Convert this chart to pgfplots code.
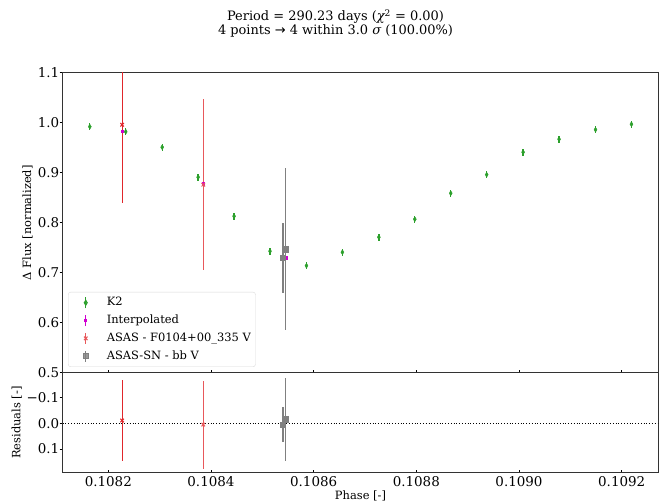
\documentclass[border=0pt]{standalone}
\usepackage{fontspec}
\setmainfont{DejaVu Serif}
\newfontfamily\dvs{DejaVu Sans}
\usepackage{pgfplots}
\usepackage{pgfplotstable}
\pgfplotsset{compat=1.18}
\definecolor{kgreen}{HTML}{2CA02C}
\definecolor{intermag}{HTML}{D000D0}
\definecolor{asasred}{HTML}{E0262B}
\definecolor{asaspink}{HTML}{E8585B}
\definecolor{sngray}{HTML}{808080}

% x = (phase - 0.1080) * 10^4
\pgfplotstableread{
x y e
1.64 0.992 0.007
2.34 0.982 0.007
3.05 0.951 0.007
3.75 0.891 0.007
4.45 0.813 0.007
5.15 0.743 0.007
5.86 0.714 0.007
6.56 0.741 0.007
7.27 0.771 0.007
7.97 0.807 0.007
8.67 0.859 0.007
9.37 0.896 0.007
10.08 0.941 0.007
10.78 0.967 0.007
11.49 0.986 0.007
12.19 0.997 0.007
}\kii
\pgfplotstableread{
x y e
2.27 0.983 0.002
3.85 0.878 0.002
5.46 0.730 0.002
}\interp
\pgfplotstableread{
x y e
2.27 0.996 0.157
}\asasA
\pgfplotstableread{
x y e
3.85 0.876 0.171
}\asasB
\pgfplotstableread{
x y e
5.40 0.730 0.070
5.45 0.747 0.162
}\asassn
\pgfplotstableread{
x y e
2.27 -0.011 0.156
}\resA
\pgfplotstableread{
x y e
3.85 0.005 0.171
}\resB
\pgfplotstableread{
x y e
5.40 0.004 0.068
5.45 -0.016 0.162
}\resSN

\pgfplotsset{
  common/.style={
    scale only axis, anchor=south west,
    width=595.6bp, xmin=1.112, xmax=12.713,
    axis line style={black!80, line width=1bp},
    tick align=inside, major tick length=3bp,
    xtick pos=bottom, ytick pos=left,
    tick style={black, line width=0.8bp},
    ytick style={xshift=-3bp},
    tick label style={font=\fontsize{13.5}{16}\selectfont},
    xtick={2,4,6,8,10,12},
  },
  eb/.style={error bars/y dir=both, error bars/y explicit,
    error bars/draw error bar/.code 2 args={\draw[#1, line width=1.3bp] ##1 -- ##2;}},
  limg/.style 2 args={legend image code/.code={\path (-12.5bp,0) (12.5bp,0);
    \draw[#1, line width=1.3bp] (0,-5.5bp)--(0,5.5bp);
    \draw[#1, fill=#1, line width=1bp] plot[only marks, #2] coordinates {(0,0)};}},
}

\begin{document}
\begin{tikzpicture}
\useasboundingbox (0bp,0bp) rectangle (671bp,504bp);
\node[anchor=base, font=\fontsize{13}{16}\selectfont] at (335.5bp,483.3bp)
  {Period = 290.23 days ({\itshape χ}\textsuperscript{2} = 0.00)};
\node[anchor=base, font=\fontsize{13}{16}\selectfont] at (335.5bp,469bp)
  {4 points {\dvs →} 4 within 3.0 {\itshape σ} (100.00\%)};

\begin{axis}[common, at={(62.7bp,131.3bp)}, height=300bp,
  ymin=0.5, ymax=1.1,
  xticklabels=\empty,
  ytick={0.5,0.6,0.7,0.8,0.9,1.0,1.1},
  yticklabels={0.5,0.6,0.7,0.8,0.9,1.0,1.1},
  legend style={at={(0.009,0.019)}, anchor=south west,
    draw=black!15, rounded corners=2.5bp, fill=white, fill opacity=0.8, text opacity=1,
    font=\fontsize{11.5}{13}\selectfont, inner sep=4.5bp,
    nodes={inner sep=0pt, text height=8.7bp, text depth=2.8bp},
    row sep=5.5bp, column sep=8bp},
  legend cell align=left,
]
\addplot[only marks, mark=diamond*, mark size=2.5bp, color=kgreen,
  mark options={xscale=0.8, fill=kgreen}, eb=kgreen,
  limg={kgreen}{mark=diamond*, mark size=2.5bp, mark options={xscale=0.8}}]
  table[x=x, y=y, y error=e] {\kii};
\addlegendentry{K2}
\addplot[only marks, mark=square*, mark size=1.1bp, color=intermag,
  mark options={fill=intermag}, eb=intermag,
  limg={intermag}{mark=square*, mark size=1.1bp}]
  table[x=x, y=y, y error=e] {\interp};
\addlegendentry{Interpolated}
\addplot[only marks, mark=x, mark size=2.5bp, color=asaspink, line width=1bp,
  eb=asaspink, limg={asaspink}{mark=x, mark size=2.5bp}]
  table[x=x, y=y, y error=e] {\asasB};
\addlegendentry{ASAS - F0104+00\_335 V}
\addplot[only marks, mark=x, mark size=2.5bp, color=asasred, line width=1bp,
  eb=asasred, forget plot]
  table[x=x, y=y, y error=e] {\asasA};
\addplot[only marks, mark=square*, mark size=2.6bp, color=sngray,
  mark options={fill=sngray}, eb=sngray,
  limg={sngray}{mark=square*, mark size=2.6bp}]
  table[x=x, y=y, y error=e] {\asassn};
\addlegendentry{ASAS-SN - bb V}
\end{axis}

\begin{axis}[common, at={(62.7bp,31.3bp)}, height=100bp,
  ymin=-0.197, ymax=0.192, y dir=reverse,
  xticklabels={0.1082,0.1084,0.1086,0.1088,0.1090,0.1092},
  ytick={-0.1,0,0.1},
  yticklabels={−0.1,0.0,0.1},
]
\addplot[black, dotted, line width=0.8bp] coordinates {(1.112,0) (12.713,0)};
\addplot[only marks, mark=x, mark size=2.5bp, color=asasred, line width=1bp, eb=asasred]
  table[x=x, y=y, y error=e] {\resA};
\addplot[only marks, mark=x, mark size=2.5bp, color=asaspink, line width=1bp, eb=asaspink]
  table[x=x, y=y, y error=e] {\resB};
\addplot[only marks, mark=square*, mark size=2.6bp, color=sngray,
  mark options={fill=sngray}, eb=sngray]
  table[x=x, y=y, y error=e] {\resSN};
\end{axis}

\node[rotate=90, font=\fontsize{11.5}{13}\selectfont] at (27.5bp,281.3bp) {Δ Flux [normalized]};
\node[rotate=90, font=\fontsize{11.5}{13}\selectfont] at (16.7bp,81.3bp) {Residuals [-]};
\node[anchor=base, font=\fontsize{11.5}{13}\selectfont] at (360.5bp,4.5bp) {Phase [-]};
\end{tikzpicture}
\end{document}
